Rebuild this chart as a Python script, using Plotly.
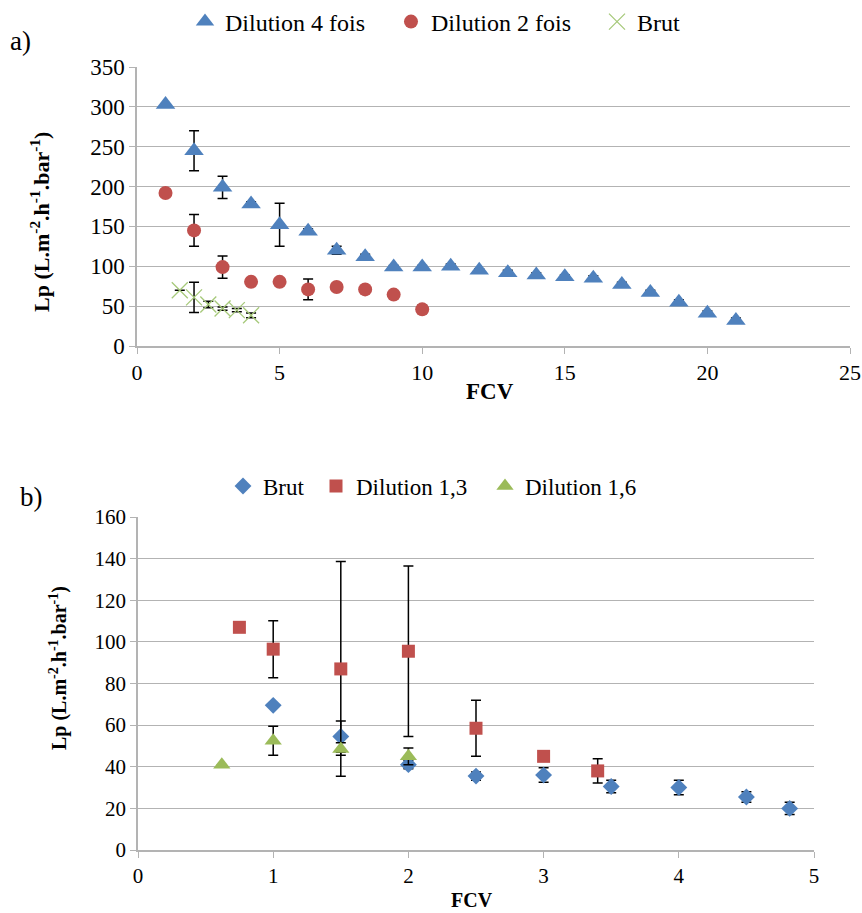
import plotly.graph_objects as go

# ---- Chart a) data ----
a_d4_x = [1, 2, 3, 4, 5, 6, 7, 8, 9, 10, 11, 12, 13, 14, 15, 16, 17, 18, 19, 20, 21]
a_d4_y = [303, 245, 199, 178, 152, 144, 120, 112, 99, 99, 100, 95, 92, 89, 87, 85, 77, 67, 55, 41, 32]
a_d4_err = [0, 25, 14, 3, 27, 3, 5, 3, 2, 2, 3, 2, 3, 3, 2, 3, 3, 3, 3, 3, 3]

a_d2_x = [1, 2, 3, 4, 5, 6, 7, 8, 9, 10]
a_d2_y = [192, 145, 99, 80.5, 80.5, 71, 74, 71, 64.5, 46]
a_d2_err = [0, 20, 14, 0, 0, 13, 0, 0, 0, 5]

a_br_x = [1.5, 2, 2.5, 3, 3.5, 4]
a_br_y = [70, 61, 52, 47, 45, 38.5]
a_br_err = [0, 19, 4, 2, 2, 3]

# ---- Chart b) data ----
b_br_x = [1, 1.5, 2, 2.5, 3, 3.5, 4, 4.5, 4.82]
b_br_y = [69.5, 54.5, 41, 35.5, 36, 30.5, 30, 25.5, 20]
b_br_err = [0, 7.5, 2, 2, 3.5, 3, 3.5, 2.5, 3]

b_d13_x = [0.75, 1, 1.5, 2, 2.5, 3, 3.4]
b_d13_y = [107, 96.5, 87, 95.5, 58.5, 45, 38]
b_d13_err = [0, 13.7, 51.6, 41, 13.4, 0, 5.8]

b_d16_x = [0.62, 1, 1.5, 2]
b_d16_y = [41, 52.5, 48.5, 45]
b_d16_err = [0, 7, 3, 4]

BLUE = "#4f81bd"
RED = "#c0504d"
GREEN = "#9bbb59"
XGREEN = "#a6c97a"
GRID = "#b3b3b3"
SERIF = "Liberation Serif"

W, H = 862, 913


def fx(px):
    return px / W


def fy(py):
    return 1 - py / H


def err(vals):
    return dict(type="data", array=vals, visible=True, color="black",
                thickness=1.5, width=5)


fig = go.Figure()

# a)
fig.add_trace(go.Scatter(x=a_d4_x, y=a_d4_y, mode="markers", name="Dilution 4 fois",
                         marker=dict(symbol="triangle-up", size=17, color=BLUE),
                         error_y=err(a_d4_err), xaxis="x", yaxis="y", legend="legend"))
fig.add_trace(go.Scatter(x=a_d2_x, y=a_d2_y, mode="markers", name="Dilution 2 fois",
                         marker=dict(symbol="circle", size=14, color=RED),
                         error_y=err(a_d2_err), xaxis="x", yaxis="y", legend="legend"))
fig.add_trace(go.Scatter(x=a_br_x, y=a_br_y, mode="markers", name="Brut",
                         marker=dict(symbol="x-thin-open", size=16, color=XGREEN,
                                     line=dict(color=XGREEN, width=1.3)),
                         error_y=err(a_br_err), xaxis="x", yaxis="y", legend="legend"))

# b)
fig.add_trace(go.Scatter(x=b_br_x, y=b_br_y, mode="markers", name="Brut",
                         marker=dict(symbol="diamond", size=13, color=BLUE),
                         error_y=err(b_br_err), xaxis="x2", yaxis="y2", legend="legend2",
                         legendwidth=48))
fig.add_trace(go.Scatter(x=b_d13_x, y=b_d13_y, mode="markers", name="Dilution 1,3",
                         marker=dict(symbol="square", size=13, color=RED),
                         error_y=err(b_d13_err), xaxis="x2", yaxis="y2", legend="legend2",
                         legendwidth=124))
fig.add_trace(go.Scatter(x=b_d16_x, y=b_d16_y, mode="markers", name="Dilution 1,6",
                         marker=dict(symbol="triangle-up", size=15, color=GREEN),
                         error_y=err(b_d16_err), xaxis="x2", yaxis="y2", legend="legend2"))


def axis(size, **kw):
    d = dict(showline=True, linecolor=GRID, linewidth=1.5, ticks="outside",
             ticklen=6, tickcolor=GRID, zeroline=False, ticklabeloverflow="allow",
             tickfont=dict(family=SERIF, size=size, color="black"))
    d.update(kw)
    return d


fig.update_layout(
    width=W, height=H,
    margin=dict(l=0, r=0, t=0, b=0, autoexpand=False),
    paper_bgcolor="white", plot_bgcolor="white",
    font=dict(family=SERIF, color="black"),
    xaxis=axis(22, domain=[fx(137), fx(850)], range=[0, 25], dtick=5,
               showgrid=False, anchor="y"),
    yaxis=axis(23, domain=[fy(346), fy(67)], range=[0, 350], dtick=50,
               showgrid=True, gridcolor=GRID, gridwidth=1.3, anchor="x"),
    xaxis2=axis(21, domain=[fx(138), fx(814)], range=[0, 5], dtick=1,
                showgrid=False, anchor="y2"),
    yaxis2=axis(21, domain=[fy(850), fy(517)], range=[0, 160], dtick=20,
                showgrid=True, gridcolor=GRID, gridwidth=1.3, anchor="x2"),
    legend=dict(orientation="h", x=fx(185), xanchor="left", y=fy(22), yanchor="middle",
                font=dict(family=SERIF, size=24, color="black"), itemwidth=30,
                entrywidth=161, bgcolor="rgba(0,0,0,0)"),
    legend2=dict(orientation="h", x=fx(223), xanchor="left", y=fy(486), yanchor="middle",
                 font=dict(family=SERIF, size=23, color="black"), itemwidth=30,
                 bgcolor="rgba(0,0,0,0)"),
    annotations=[
        dict(text="a)", x=fx(8), y=fy(41), xref="paper", yref="paper",
             xanchor="left", yanchor="middle", showarrow=False,
             font=dict(family=SERIF, size=27)),
        dict(text="b)", x=fx(18), y=fy(497), xref="paper", yref="paper",
             xanchor="left", yanchor="middle", showarrow=False,
             font=dict(family=SERIF, size=27)),
        dict(text="<b>Lp (L.m<sup>-2</sup>.h<sup>-1</sup>.bar<sup>-1</sup>)</b>",
             x=fx(40), y=fy(222), xref="paper", yref="paper", textangle=-90,
             xanchor="center", yanchor="middle", showarrow=False,
             font=dict(family=SERIF, size=22)),
        dict(text="<b>Lp (L.m<sup>-2</sup>.h<sup>-1</sup>.bar<sup>-1</sup>)</b>",
             x=fx(58), y=fy(668), xref="paper", yref="paper", textangle=-90,
             xanchor="center", yanchor="middle", showarrow=False,
             font=dict(family=SERIF, size=20)),
        dict(text="<b>FCV</b>", x=fx(490), y=fy(392), xref="paper", yref="paper",
             xanchor="center", yanchor="middle", showarrow=False,
             font=dict(family=SERIF, size=23)),
        dict(text="<b>FCV</b>", x=fx(472), y=fy(900), xref="paper", yref="paper",
             xanchor="center", yanchor="middle", showarrow=False,
             font=dict(family=SERIF, size=20)),
    ],
)

fig.write_html("out.html",
               config={"displayModeBar": False},
               post_script="document.body.style.margin='0';"
                           "document.body.style.overflow='hidden';")
